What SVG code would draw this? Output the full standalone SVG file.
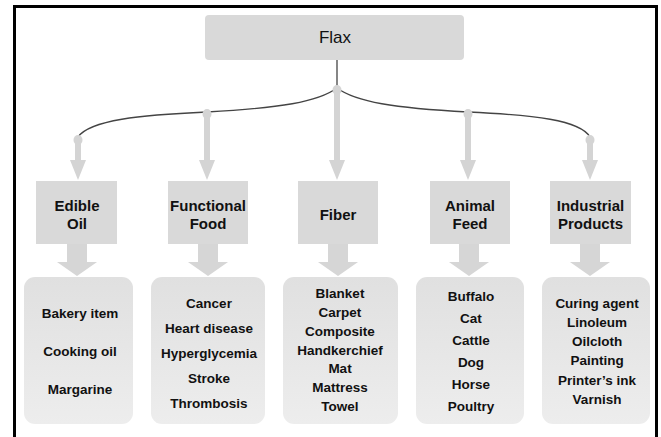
<svg xmlns="http://www.w3.org/2000/svg" xmlns:xlink="http://www.w3.org/1999/xlink" width="661" height="437" viewBox="0 0 661 437">
<style>
.hdr{fill:#d9d9d9}
.lst{fill:url(#lg)}
.t{font-family:"Liberation Sans",Arial,sans-serif;font-weight:bold;fill:#111;text-anchor:middle}
.h{font-size:15px}
.l{font-size:13.5px}
.flax{font-family:"Liberation Sans",Arial,sans-serif;font-size:17px;fill:#111;text-anchor:middle}
.thin{fill:#d4d4d4}
.curve{fill:none;stroke:#444;stroke-width:1.3}
</style>
<defs>
<linearGradient id="lg" x1="0" y1="0" x2="0" y2="1">
<stop offset="0" stop-color="#e0e0e0"/>
<stop offset="1" stop-color="#ededed"/>
</linearGradient>
<path id="chev" d="M-10,244 H10 V262 H20 L0,276 L-20,262 H-10 Z" fill="#d6d6d6"/>
<path id="head" d="M-8,160 H8 L0,180 Z" class="thin"/>
</defs>
<rect x="0" y="0" width="661" height="437" fill="#fff"/>
<rect x="14.5" y="6.5" width="642" height="440" fill="#fff" stroke="#000" stroke-width="3"/>

<g id="connectors">
<line x1="337" y1="60" x2="337" y2="88" stroke="#444" stroke-width="1.3"/>
<path class="curve" d="M337,88 C318,102 280,108 207,112 C140,115 90,120 78,137"/>
<path class="curve" d="M337,88 C356,102 394,108 468,112 C534,115 580,120 590,137"/>
<g class="thin">
<ellipse cx="337" cy="90" rx="4.5" ry="5"/><rect x="334" y="90" width="6" height="72"/>
<ellipse cx="207" cy="114" rx="4.5" ry="5"/><rect x="204" y="114" width="6" height="48"/>
<ellipse cx="468" cy="114" rx="4.5" ry="5"/><rect x="465" y="114" width="6" height="48"/>
<ellipse cx="78" cy="140" rx="4.5" ry="5"/><rect x="75" y="140" width="6" height="22"/>
<ellipse cx="590" cy="140" rx="4.5" ry="5"/><rect x="587" y="140" width="6" height="22"/>
</g>
<use xlink:href="#head" x="337"/>
<use xlink:href="#head" x="207"/>
<use xlink:href="#head" x="468"/>
<use xlink:href="#head" x="78"/>
<use xlink:href="#head" x="590"/>
<use xlink:href="#chev" x="77"/>
<use xlink:href="#chev" x="208"/>
<use xlink:href="#chev" x="338"/>
<use xlink:href="#chev" x="469"/>
<use xlink:href="#chev" x="590"/>
</g>

<g id="flax">
<rect x="205" y="15" width="259" height="45" rx="4" class="hdr"/>
<text x="335" y="43" class="flax">Flax</text>
</g>

<g id="edible-oil">
<rect x="36" y="181" width="81" height="63" class="hdr"/>
<text class="t h" x="77" y="211">Edible</text>
<text class="t h" x="77" y="229">Oil</text>
</g>
<g id="functional-food">
<rect x="168" y="181" width="80" height="63" class="hdr"/>
<text class="t h" x="208" y="211">Functional</text>
<text class="t h" x="208" y="229">Food</text>
</g>
<g id="fiber">
<rect x="298" y="181" width="80" height="63" class="hdr"/>
<text class="t h" x="338" y="220">Fiber</text>
</g>
<g id="animal-feed">
<rect x="430" y="181" width="80" height="63" class="hdr"/>
<text class="t h" x="470" y="211">Animal</text>
<text class="t h" x="470" y="229">Feed</text>
</g>
<g id="industrial-products">
<rect x="550" y="181" width="81" height="63" class="hdr"/>
<text class="t h" x="590.5" y="211">Industrial</text>
<text class="t h" x="590.5" y="229">Products</text>
</g>

<g id="edible-oil-list">
<rect x="24" y="277" width="109" height="147" rx="11" class="lst"/>
<text class="t l" x="80" y="318">Bakery item</text>
<text class="t l" x="80" y="356">Cooking oil</text>
<text class="t l" x="80" y="394">Margarine</text>
</g>
<g id="functional-food-list">
<rect x="151" y="277" width="114" height="147" rx="11" class="lst"/>
<text class="t l" x="209" y="308">Cancer</text>
<text class="t l" x="209" y="333">Heart disease</text>
<text class="t l" x="209" y="358">Hyperglycemia</text>
<text class="t l" x="209" y="383">Stroke</text>
<text class="t l" x="209" y="408">Thrombosis</text>
</g>
<g id="fiber-list">
<rect x="283" y="277" width="115" height="147" rx="11" class="lst"/>
<text class="t l" x="340" y="298">Blanket</text>
<text class="t l" x="340" y="317">Carpet</text>
<text class="t l" x="340" y="336">Composite</text>
<text class="t l" x="340" y="355">Handkerchief</text>
<text class="t l" x="340" y="373">Mat</text>
<text class="t l" x="340" y="392">Mattress</text>
<text class="t l" x="340" y="411">Towel</text>
</g>
<g id="animal-feed-list">
<rect x="416" y="277" width="108" height="147" rx="11" class="lst"/>
<text class="t l" x="471" y="301">Buffalo</text>
<text class="t l" x="471" y="323">Cat</text>
<text class="t l" x="471" y="345">Cattle</text>
<text class="t l" x="471" y="367">Dog</text>
<text class="t l" x="471" y="389">Horse</text>
<text class="t l" x="471" y="411">Poultry</text>
</g>
<g id="industrial-products-list">
<rect x="542" y="277" width="108" height="147" rx="11" class="lst"/>
<text class="t l" x="597" y="308">Curing agent</text>
<text class="t l" x="597" y="327">Linoleum</text>
<text class="t l" x="597" y="346">Oilcloth</text>
<text class="t l" x="597" y="365">Painting</text>
<text class="t l" x="597" y="385">Printer’s ink</text>
<text class="t l" x="597" y="404">Varnish</text>
</g>
</svg>
